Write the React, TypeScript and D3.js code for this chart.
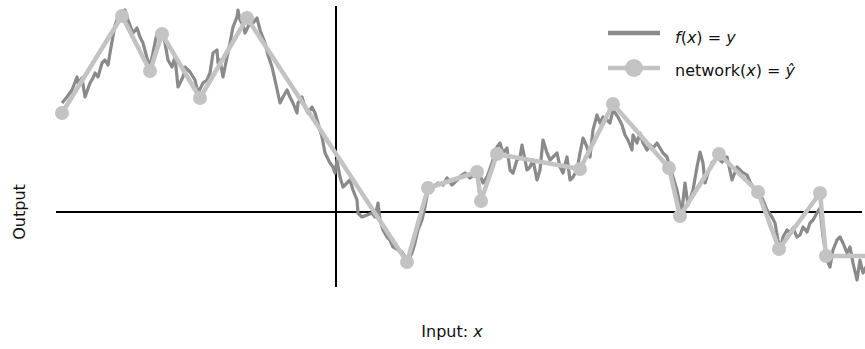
import React, { useEffect, useRef } from "react";
import * as d3 from "d3";

// f(x) = y : target function
const fX = [-2.74,-2.69,-2.64,-2.59,-2.58,-2.54,-2.51,-2.46,-2.43,-2.41,-2.38,-2.34,-2.31,-2.28,-2.26,-2.21,-2.19,-2.14,-2.11,-2.08,-2.03,-1.99,-1.96,-1.93,-1.89,-1.86,-1.79,-1.74,-1.71,-1.68,-1.64,-1.61,-1.58,-1.53,-1.51,-1.46,-1.41,-1.38,-1.33,-1.29,-1.26,-1.23,-1.19,-1.18,-1.16,-1.13,-1.11,-1.06,-1.03,-0.99,-0.98,-0.96,-0.93,-0.91,-0.88,-0.86,-0.83,-0.79,-0.76,-0.71,-0.68,-0.64,-0.61,-0.56,-0.53,-0.49,-0.46,-0.43,-0.39,-0.38,-0.34,-0.31,-0.28,-0.24,-0.21,-0.18,-0.14,-0.11,-0.06,-0.03,-0.01,0.01,0.04,0.07,0.11,0.14,0.17,0.21,0.22,0.26,0.31,0.36,0.39,0.42,0.44,0.47,0.51,0.54,0.57,0.62,0.66,0.69,0.72,0.76,0.79,0.82,0.86,0.89,0.92,0.97,1.02,1.07,1.11,1.16,1.21,1.26,1.29,1.34,1.39,1.42,1.47,1.51,1.56,1.61,1.64,1.67,1.71,1.74,1.77,1.81,1.84,1.86,1.89,1.91,1.94,1.97,2.01,2.04,2.07,2.11,2.14,2.17,2.21,2.24,2.27,2.31,2.34,2.37,2.41,2.44,2.47,2.51,2.54,2.57,2.61,2.64,2.67,2.71,2.74,2.77,2.82,2.86,2.89,2.92,2.96,2.97,3.01,3.04,3.07,3.11,3.14,3.17,3.21,3.24,3.27,3.31,3.34,3.37,3.41,3.44,3.46,3.49,3.52,3.57,3.61,3.64,3.67,3.69,3.72,3.76,3.81,3.86,3.91,3.96,4.01,4.06,4.11,4.14,4.17,4.22,4.27,4.31,4.36,4.39,4.42,4.44,4.47,4.51,4.54,4.57,4.61,4.64,4.67,4.71,4.74,4.77,4.81,4.84,4.87,4.91,4.94,4.97,5.01,5.04,5.07,5.11,5.14,5.17,5.21,5.24,5.27,5.31];
const fY = [1.09,1.15,1.22,1.35,1.29,1.34,1.15,1.29,1.34,1.39,1.35,1.49,1.52,1.47,1.59,1.87,1.92,1.99,2.02,1.92,1.79,1.84,1.75,1.69,1.54,1.45,1.79,1.82,1.69,1.52,1.45,1.55,1.25,1.35,1.45,1.40,1.32,1.19,1.29,1.32,1.39,1.59,1.62,1.49,1.52,1.35,1.45,1.69,1.85,1.95,2.02,1.92,1.87,1.79,1.85,1.92,1.89,1.94,1.82,1.69,1.57,1.45,1.32,1.09,1.15,1.22,1.15,1.09,0.99,1.09,1.15,1.05,0.99,1.05,0.99,0.89,0.75,0.59,0.49,0.45,0.39,0.52,0.35,0.25,0.29,0.32,0.22,0.12,-0.01,-0.05,-0.03,-0.01,-0.05,0.09,-0.08,-0.18,-0.25,-0.28,-0.35,-0.38,-0.40,-0.45,-0.48,-0.41,-0.31,-0.18,-0.08,0.05,0.22,0.25,0.29,0.27,0.34,0.27,0.32,0.37,0.39,0.34,0.37,0.42,0.29,0.35,0.49,0.65,0.69,0.59,0.64,0.42,0.39,0.52,0.55,0.67,0.52,0.42,0.45,0.52,0.32,0.42,0.72,0.59,0.52,0.55,0.59,0.45,0.39,0.55,0.32,0.35,0.42,0.59,0.74,0.65,0.55,0.82,0.97,0.89,0.95,0.92,0.89,1.02,0.95,0.87,0.77,0.72,0.62,0.77,0.69,0.79,0.69,0.62,0.67,0.64,0.69,0.64,0.59,0.55,0.45,0.35,0.22,0.07,0.02,0.29,0.07,0.22,0.45,0.60,0.49,0.29,0.39,0.49,0.55,0.50,0.55,0.32,0.45,0.40,0.37,0.30,0.25,0.22,0.12,0.02,-0.05,-0.11,-0.28,-0.38,-0.25,-0.18,-0.21,-0.16,-0.25,-0.23,-0.15,-0.20,-0.11,-0.08,-0.01,0.04,-0.25,-0.48,-0.55,-0.38,-0.28,-0.25,-0.31,-0.41,-0.35,-0.51,-0.68,-0.48,-0.61,-0.53];

// network(x) = ŷ : piecewise-linear approximation
const netX = [-2.74,-2.14,-1.86,-1.74,-1.36,-0.89,0.71,0.92,1.41,1.45,1.61,2.44,2.77,3.33,3.44,3.83,4.22,4.43,4.84,4.90,5.40];
const netY = [0.99,1.96,1.41,1.78,1.14,1.94,-0.50,0.24,0.40,0.11,0.58,0.43,1.08,0.44,-0.04,0.58,0.20,-0.37,0.19,-0.44,-0.44];

const xLabel = "Input: ";
const yLabel = "Output";

const W = 865, H = 349;
const FONT = "'DejaVu Sans', sans-serif";
const DARK = "#8a8a8a";
const LIGHT = "#c3c3c3";

export default function App() {
  const ref = useRef<SVGSVGElement | null>(null);
  useEffect(() => {
    const svg = d3.select(ref.current);
    svg.selectAll("*").remove();
    const x = d3.scaleLinear().domain([-2.8, 5.29]).range([56, 865]);
    const y = d3.scaleLinear().domain([-0.75, 2.07]).range([287, 5]);

    // axes
    svg.append("line").attr("x1", x(-2.8)).attr("x2", x(5.26)).attr("y1", y(0)).attr("y2", y(0))
      .attr("stroke", "#000").attr("stroke-width", 2);
    svg.append("line").attr("x1", x(0)).attr("x2", x(0)).attr("y1", y(2.06)).attr("y2", y(-0.75))
      .attr("stroke", "#000").attr("stroke-width", 2);

    const fData = fX.map((v, i) => [v, fY[i]] as [number, number]);
    const nData = netX.map((v, i) => [v, netY[i]] as [number, number]);
    const line = d3.line<[number, number]>().x(d => x(d[0])).y(d => y(d[1]));

    svg.append("path").attr("d", line(fData)).attr("fill", "none").attr("stroke", DARK)
      .attr("stroke-width", 3.2).attr("stroke-linejoin", "round");
    svg.append("path").attr("d", line(nData)).attr("fill", "none").attr("stroke", LIGHT)
      .attr("stroke-width", 4.5).attr("stroke-linejoin", "round");
    svg.append("g").selectAll("circle").data(nData).enter().append("circle")
      .attr("cx", d => x(d[0])).attr("cy", d => y(d[1])).attr("r", 7).attr("fill", LIGHT);

    // legend
    const lg = svg.append("g");
    lg.append("line").attr("x1", 608).attr("x2", 660).attr("y1", 33).attr("y2", 33)
      .attr("stroke", DARK).attr("stroke-width", 4.5);
    lg.append("line").attr("x1", 608).attr("x2", 660).attr("y1", 68).attr("y2", 68)
      .attr("stroke", LIGHT).attr("stroke-width", 4.5);
    lg.append("circle").attr("cx", 634).attr("cy", 68).attr("r", 9).attr("fill", LIGHT);
    const t1 = lg.append("text").attr("x", 675).attr("y", 43).attr("font-family", FONT).attr("font-size", 16).attr("fill", "#111");
    t1.append("tspan").attr("font-style", "italic").text("f");
    t1.append("tspan").text("(");
    t1.append("tspan").attr("font-style", "italic").text("x");
    t1.append("tspan").text(") = ");
    t1.append("tspan").attr("font-style", "italic").text("y");
    const t2 = lg.append("text").attr("x", 675).attr("y", 76).attr("font-family", FONT).attr("font-size", 16).attr("fill", "#111");
    t2.append("tspan").text("network(");
    t2.append("tspan").attr("font-style", "italic").text("x");
    t2.append("tspan").text(") = ");
    t2.append("tspan").attr("font-style", "italic").text("ŷ");

    // axis labels
    const xl = svg.append("text").attr("x", 452).attr("y", 337).attr("text-anchor", "middle")
      .attr("font-family", FONT).attr("font-size", 16).attr("fill", "#111");
    xl.append("tspan").text(xLabel);
    xl.append("tspan").attr("font-style", "italic").text("x");
    svg.append("text").attr("transform", "translate(25,212) rotate(-90)").attr("text-anchor", "middle")
      .attr("font-family", FONT).attr("font-size", 16).attr("fill", "#111").text(yLabel);
  }, []);
  return (
    <svg ref={ref} width={W} height={H}
      style={{ position: "absolute", left: 0, top: 0, background: "#fff", display: "block" }} />
  );
}
